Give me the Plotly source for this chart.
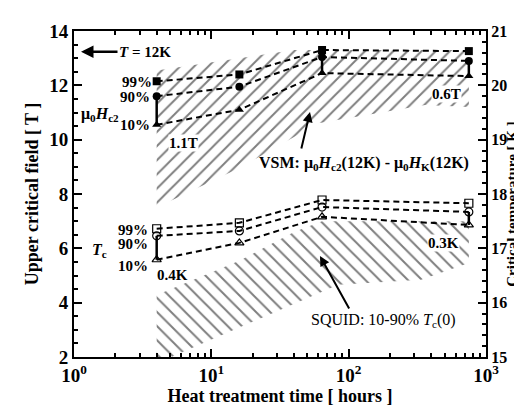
import plotly.graph_objects as go

# heat treatment times (hours)
hours = [4, 16, 64, 750]

# upper critical field at 12 K (T), filled markers
hc2_99 = [12.15, 12.4, 13.3, 13.26]
hc2_90 = [11.6, 11.95, 13.04, 12.9]
hc2_10 = [10.55, 11.1, 12.45, 12.34]

# critical temperature (K), open markers
tc_99 = [17.36, 17.47, 17.89, 17.83]
tc_90 = [17.23, 17.32, 17.76, 17.67]
tc_10 = [16.79, 17.1, 17.58, 17.43]

# hatched band VSM: mu0Hc2(12K) - mu0HK(12K), left axis
vsm_x = [4, 16, 40, 750, 750, 360, 60, 16, 4]
vsm_y = [12.55, 13.0, 13.3, 13.3, 11.2, 11.28, 10.6, 8.96, 7.5]

# hatched band SQUID: 10-90% Tc(0), right axis
squid_x = [4, 16, 40, 64, 750, 750, 337, 84, 5.1, 4]
squid_y = [16.14, 16.77, 17.3, 17.5, 17.5, 16.73, 16.42, 16.33, 15.0, 15.0]

x_ticks = [1, 10, 100, 1000]
x_ticktext = ['10<sup>0</sup>', '10<sup>1</sup>', '10<sup>2</sup>', '10<sup>3</sup>']

FONT = "Liberation Serif"

fig = go.Figure()

fig.add_trace(go.Scatter(
    x=vsm_x, y=vsm_y, mode='lines', fill='toself',
    line=dict(width=0, color='rgba(0,0,0,0)'),
    fillcolor='white',
    fillpattern=dict(shape='/', fgcolor='black', bgcolor='white', size=10, solidity=0.2),
    hoverinfo='skip', showlegend=False, yaxis='y',
))
fig.add_trace(go.Scatter(
    x=squid_x, y=squid_y, mode='lines', fill='toself',
    line=dict(width=0, color='rgba(0,0,0,0)'),
    fillcolor='white',
    fillpattern=dict(shape='\\', fgcolor='black', bgcolor='white', size=10, solidity=0.2),
    hoverinfo='skip', showlegend=False, yaxis='y2',
))

dash = '6px,4px'

# Hc2 series
for vals, sym in [(hc2_99, 'square'), (hc2_90, 'circle'), (hc2_10, 'triangle-up')]:
    err = None
    if vals is hc2_10:
        err = dict(type='data', symmetric=False,
                   array=[hc2_90[i] - hc2_10[i] if i != 1 else 0 for i in range(len(hours))],
                   arrayminus=[0] * len(hours), color='black', thickness=2.5, width=0)
    fig.add_trace(go.Scatter(
        x=hours, y=vals, mode='lines+markers', yaxis='y',
        line=dict(color='black', width=2, dash=dash),
        marker=dict(symbol=sym, size=8, color='black'),
        error_y=err, showlegend=False,
    ))

# Tc series
for vals, sym in [(tc_99, 'square-open'), (tc_90, 'circle-open'), (tc_10, 'triangle-up-open')]:
    err = None
    if vals is tc_10:
        err = dict(type='data', symmetric=False,
                   array=[tc_90[i] - tc_10[i] if i in (0, 3) else 0 for i in range(len(hours))],
                   arrayminus=[0] * len(hours), color='black', thickness=2.5, width=0)
    fig.add_trace(go.Scatter(
        x=hours, y=vals, mode='lines+markers', yaxis='y2',
        line=dict(color='black', width=2, dash=dash),
        marker=dict(symbol=sym, size=8, color='black', line=dict(width=1.2, color='black')),
        error_y=err, showlegend=False,
    ))


def label(text, x, y, xanchor='center', size=15, bold=False, bg=None):
    fig.add_annotation(text=text, x=x, y=y, xref='paper', yref='paper',
                       xanchor=xanchor, yanchor='middle', showarrow=False,
                       font=dict(family=FONT, size=size, color='black',
                                 weight='bold' if bold else 'normal'),
                       bgcolor=bg, borderpad=0)


label('99%', 0.192, 0.844, 'right', bold=True)
label('90%', 0.187, 0.798, 'right', bold=True)
label('10%', 0.187, 0.712, 'right', bold=True)
label('\u03bc<sub>0</sub><i>H</i><sub>c2</sub>', 0.015, 0.745, 'left', size=16, bold=True)
label('1.1T', 0.228, 0.656, 'left', bold=True, bg='white')
label('0.6T', 0.903, 0.807, 'center', bold=True, bg='white')
label('VSM: \u03bc<sub>0</sub><i>H</i><sub>c2</sub>(12K) - \u03bc<sub>0</sub><i>H</i><sub>K</sub>(12K)',
      0.447, 0.595, 'left', size=16, bold=True)
label('99%', 0.182, 0.39, 'right', bold=True)
label('90%', 0.182, 0.347, 'right', bold=True)
label('10%', 0.182, 0.279, 'right', bold=True)
label('<i>T</i><sub>c</sub>', 0.063, 0.328, 'center', size=16, bold=True)
label('0.4K', 0.199, 0.2515, 'left', bold=True)
label('0.3K', 0.896, 0.35, 'center', bold=True, bg='white')
label('SQUID: 10-90% <i>T</i><sub>c</sub>(0)', 0.75, 0.113, 'center', size=16)

# right axis title, squeezed next to the tick labels as in the original
fig.add_annotation(text='Critical temperature [ K ]', x=1.0, xshift=26, y=0.47,
                   xref='paper', yref='paper', textangle=-90, showarrow=False,
                   xanchor='center', yanchor='middle', borderpad=0,
                   font=dict(family=FONT, size=15, color='black', weight='bold'))

# T = 12K arrow
fig.add_annotation(text='<i>T</i> = 12K', x=0.017, y=0.936, xref='paper', yref='paper',
                   ax=64, ay=0, showarrow=True, arrowhead=2, arrowsize=1, arrowwidth=2.5,
                   arrowcolor='black', standoff=0,
                   font=dict(family=FONT, size=15, color='black', weight='bold'))
# VSM arrow
fig.add_annotation(text='', x=0.5728, y=0.7515, xref='paper', yref='paper',
                   ax=-9, ay=38, showarrow=True, arrowhead=2, arrowsize=1, arrowwidth=2,
                   arrowcolor='black', standoff=0)
# SQUID arrow
fig.add_annotation(text='', x=0.597, y=0.31, xref='paper', yref='paper',
                   ax=30, ay=54, showarrow=True, arrowhead=2, arrowsize=1, arrowwidth=2,
                   arrowcolor='black', standoff=0)

tick_font = dict(family=FONT, size=19, color='black', weight='bold')
title_font = dict(family=FONT, size=18, color='black', weight='bold')

fig.update_layout(
    width=522, height=409,
    margin=dict(l=66, r=44, t=23, b=60),
    paper_bgcolor='white', plot_bgcolor='white',
    font=dict(family=FONT, color='black'),
    showlegend=False,
    xaxis=dict(
        type='log', range=[0, 3], tickvals=x_ticks, ticktext=x_ticktext,
        showline=True, linecolor='black', linewidth=2, mirror='ticks',
        ticks='inside', ticklen=8, tickwidth=2, tickcolor='black',
        minor=dict(ticks='inside', ticklen=4, tickwidth=1.5, tickcolor='black', dtick='D1'),
        showgrid=False, zeroline=False,
        tickfont=tick_font,
        title=dict(text='Heat treatment time [ hours ]', font=title_font, standoff=4),
    ),
    yaxis=dict(
        range=[2, 14], dtick=2,
        showline=True, linecolor='black', linewidth=2,
        ticks='inside', ticklen=8, tickwidth=2, tickcolor='black',
        minor=dict(ticks='inside', ticklen=4, tickwidth=1.5, tickcolor='black', dtick=0.5),
        showgrid=False, zeroline=False,
        tickfont=tick_font,
        title=dict(text='Upper critical field [ T ]', font=title_font, standoff=6),
    ),
    yaxis2=dict(
        range=[15, 21], dtick=1, overlaying='y', side='right',
        showline=True, linecolor='black', linewidth=2,
        ticks='inside', ticklen=8, tickwidth=2, tickcolor='black',
        minor=dict(ticks='inside', ticklen=4, tickwidth=1.5, tickcolor='black', dtick=0.2),
        showgrid=False, zeroline=False,
        tickfont=dict(family=FONT, size=16, color='black', weight='bold'),
    ),
)

fig.write_html("out.html")
